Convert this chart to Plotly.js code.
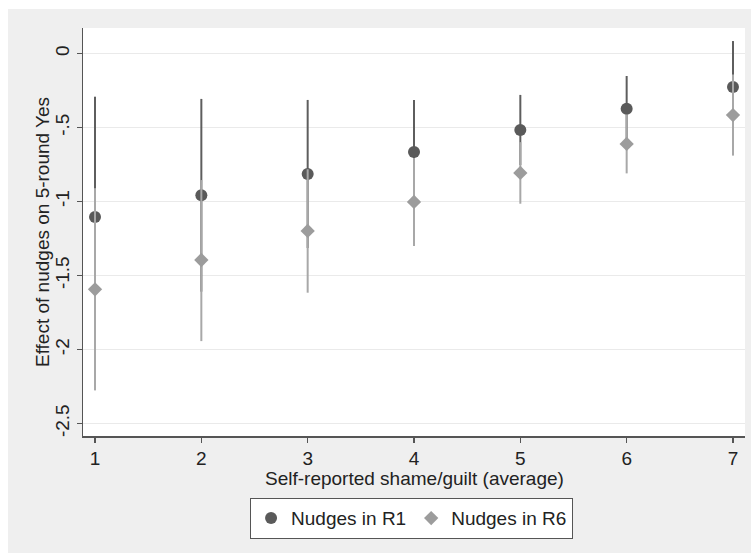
<!DOCTYPE html>
<html>
<head>
<meta charset="utf-8">
<script src="https://cdn.plot.ly/plotly-3.0.1.min.js"></script>
<style>html,body{margin:0;padding:0;background:#fff}#chart{width:751px;height:553px}</style>
</head>
<body>
<div id="chart"></div>
<script>
// Self-reported shame/guilt (average)
var shameLevels = [1, 2, 3, 4, 5, 6, 7];

// Nudges in R1: point estimate and 95% CI
var r1Estimate = [-1.105, -0.958, -0.814, -0.666, -0.517, -0.373, -0.226];
var r1Upper    = [-0.292, -0.307, -0.314, -0.314, -0.280, -0.152,  0.084];
var r1Lower    = [-1.918, -1.609, -1.314, -1.018, -0.754, -0.594, -0.536];

// Nudges in R6: point estimate and 95% CI
var r6Estimate = [-1.593, -1.395, -1.199, -1.003, -0.807, -0.611, -0.416];
var r6Upper    = [-0.910, -0.855, -0.782, -0.706, -0.599, -0.412, -0.142];
var r6Lower    = [-2.276, -1.943, -1.616, -1.300, -1.015, -0.810, -0.690];

var yTickVals = [0, -0.5, -1, -1.5, -2, -2.5];
var yTickText = ["0", "-.5", "-1", "-1.5", "-2", "-2.5"];
var xTickVals = [1, 2, 3, 4, 5, 6, 7];

function diff(a, b) { return a.map(function (v, i) { return v - b[i]; }); }

var FONT = "Liberation Sans, Arial, sans-serif";
var FS = 19;

var traceR1 = {
  type: "scatter", mode: "markers", name: "Nudges in R1",
  x: shameLevels, y: r1Estimate,
  marker: { symbol: "circle", size: 12, color: "#5a5a5a" },
  error_y: { type: "data", symmetric: false,
    array: diff(r1Upper, r1Estimate), arrayminus: diff(r1Estimate, r1Lower),
    color: "#5e5e5e", thickness: 2, width: 0 }
};
var traceR6 = {
  type: "scatter", mode: "markers", name: "Nudges in R6",
  x: shameLevels, y: r6Estimate,
  marker: { symbol: "diamond", size: 11, color: "#9c9c9c" },
  error_y: { type: "data", symmetric: false,
    array: diff(r6Upper, r6Estimate), arrayminus: diff(r6Estimate, r6Lower),
    color: "#a8a8a8", thickness: 2, width: 0 }
};

var layout = {
  width: 751, height: 553,
  margin: { l: 83, r: 6, t: 28, b: 117, pad: 0 },
  paper_bgcolor: "#ffffff", plot_bgcolor: "#ffffff",
  font: { family: FONT, size: FS, color: "#222222" },
  showlegend: true,
  legend: {
    orientation: "h", x: 0.496, xanchor: "center", y: -0.152, yanchor: "top",
    bgcolor: "#ffffff", bordercolor: "#555555", borderwidth: 1.2,
    font: { family: FONT, size: FS, color: "#222222" },
    itemwidth: 30, tracegroupgap: 0
  },
  xaxis: {
    range: [0.887, 7.113], tickvals: xTickVals, ticks: "outside", ticklen: 5,
    tickwidth: 1.3, tickcolor: "#555555", showline: true, linecolor: "#555555",
    linewidth: 1.5, showgrid: false, zeroline: false,
    tickfont: { family: FONT, size: FS, color: "#222222" }
  },
  yaxis: {
    range: [-2.584, 0.172], tickvals: yTickVals, ticktext: yTickText,
    tickangle: -90, ticks: "outside", ticklen: 5, tickwidth: 1.3,
    tickcolor: "#555555", showline: true, linecolor: "#555555", linewidth: 1.5,
    showgrid: true, gridcolor: "#eaeaea", gridwidth: 1.5, zeroline: false,
    tickfont: { family: FONT, size: FS, color: "#222222" }
  },
  shapes: [
    { type: "rect", xref: "paper", yref: "paper", layer: "below",
      x0: -0.1133, x1: 1.0091, y0: -0.2868, y1: 1.0466,
      fillcolor: "#efefef", line: { width: 0 } },
    { type: "rect", xref: "paper", yref: "paper", layer: "below",
      x0: 0, x1: 1, y0: 0, y1: 1, fillcolor: "#ffffff", line: { width: 0 } }
  ],
  annotations: [
    { text: "Self-reported shame/guilt (average)", xref: "paper", yref: "paper",
      x: 0.5, y: -0.103, xanchor: "center", yanchor: "middle", showarrow: false,
      font: { family: FONT, size: FS, color: "#222222" } },
    { text: "Effect of nudges on 5-round Yes", xref: "paper", yref: "paper",
      x: -0.0619, y: 0.5, xanchor: "center", yanchor: "middle", textangle: -90,
      showarrow: false, font: { family: FONT, size: FS, color: "#222222" } }
  ]
};

Plotly.newPlot("chart", [traceR1, traceR6], layout, { displayModeBar: false, staticPlot: true });
</script>
</body>
</html>
